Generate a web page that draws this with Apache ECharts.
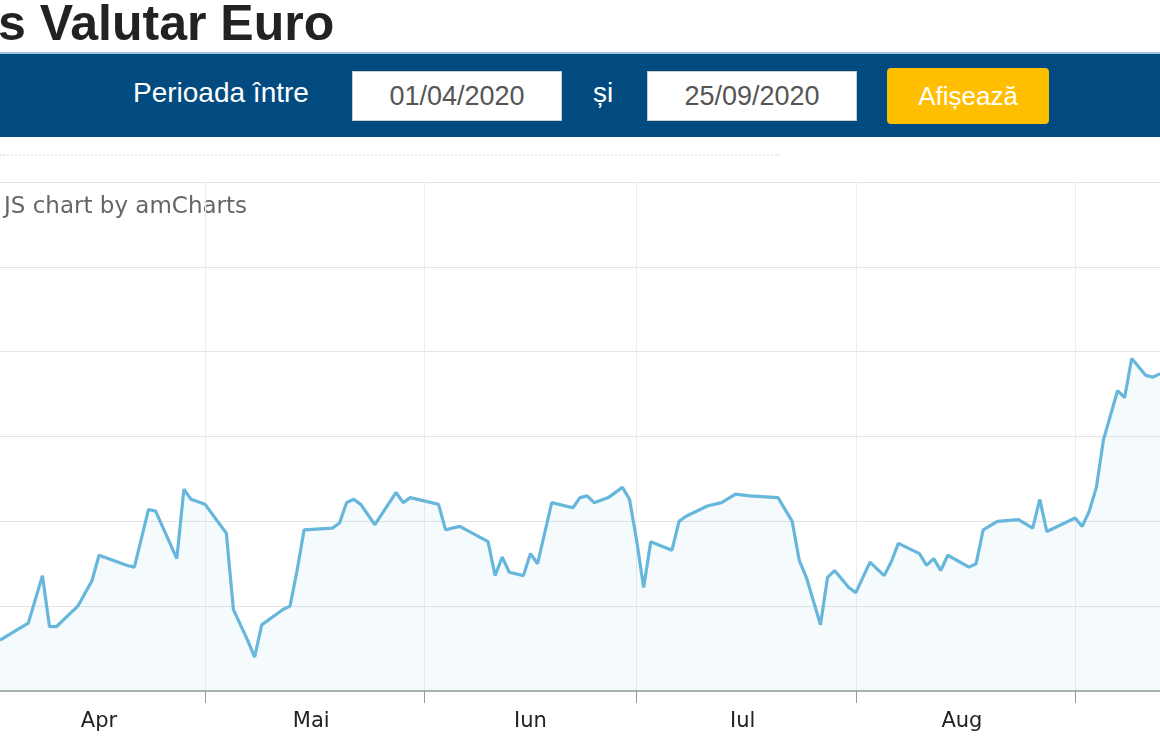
<!DOCTYPE html>
<html><head><meta charset="utf-8">
<script src="https://cdn.jsdelivr.net/npm/echarts@6/dist/echarts.min.js"></script>
<style>
html,body{margin:0;padding:0;width:1160px;height:750px;overflow:hidden;background:#fff;font-family:"Liberation Sans",Arial,sans-serif}
#chart{position:absolute;left:0;top:0;width:1160px;height:750px}
#title{position:absolute;left:-2px;top:-6px;font-size:50px;font-weight:bold;color:#222;white-space:nowrap}
#bar{position:absolute;left:0;top:52px;width:1160px;height:85px;background:#024b80;border-top:2px solid #9fc3de;box-sizing:border-box}
.lbl{position:absolute;color:#fff;font-size:28px;top:23px}
.box{position:absolute;top:17px;width:210px;height:50px;background:#fff;border:1px solid #ccc;box-sizing:border-box;color:#555;font-size:27px;text-align:center;line-height:48px}
#btn{position:absolute;left:887px;top:14px;width:162px;height:56px;background:#ffbf00;border-radius:4px;color:#fff;font-size:26px;text-align:center;line-height:56px}
#dots{position:absolute;left:0;top:154px;width:780px;border-top:2px dotted #e4edf4}
</style></head><body>
<div id="chart"></div>
<div id="title">s Valutar Euro</div>
<div id="bar">
  <div class="lbl" style="left:133px">Perioada între</div>
  <div class="box" style="left:352px">01/04/2020</div>
  <div class="lbl" style="left:593px">și</div>
  <div class="box" style="left:647px">25/09/2020</div>
  <div id="btn">Afișează</div>
</div>
<div id="dots"></div>
<script>
// day offsets from 1 April 2020
const dayIndex = [0,1,5,7,8,9,12,14,15,19,20,22,23,26,27,28,30,33,34,36,37,38,41,42,43,44,48,49,50,51,52,54,57,58,59,62,63,64,66,70,71,72,73,75,76,77,79,82,83,84,85,87,89,90,91,92,93,96,97,98,101,103,105,107,111,113,114,115,117,118,119,121,122,124,126,127,128,131,132,133,134,135,138,139,140,142,145,147,148,149,153,154,155,156,157,159,160,161,163,164,165];
const rates = [4.8206,4.8230,4.8240,4.8268,4.8238,4.8238,4.8250,4.8265,4.8280,4.8274,4.8273,4.8307,4.8306,4.8278,4.8319,4.8313,4.8310,4.8293,4.8248,4.8230,4.8220,4.8239,4.8248,4.8250,4.8271,4.8295,4.8296,4.8299,4.8311,4.8313,4.8310,4.8298,4.8317,4.8311,4.8314,4.8311,4.8310,4.8295,4.8297,4.8288,4.8268,4.8279,4.8270,4.8268,4.8281,4.8275,4.8311,4.8308,4.8314,4.8315,4.8311,4.8314,4.8320,4.8313,4.8289,4.8261,4.8288,4.8283,4.8300,4.8303,4.8309,4.8311,4.8316,4.8315,4.8314,4.8300,4.8277,4.8267,4.8239,4.8267,4.8271,4.8261,4.8258,4.8276,4.8268,4.8276,4.8287,4.8281,4.8274,4.8278,4.8271,4.8280,4.8273,4.8275,4.8295,4.8300,4.8301,4.8296,4.8313,4.8294,4.8302,4.8297,4.8306,4.8320,4.8348,4.8377,4.8373,4.8396,4.8386,4.8385,4.8387];
const monthLabels = ['Apr','Mai','Iun','Iul','Aug'];
const monthLabelIdx = [15,45,76,106,137];
const monthStartIdx = [30,61,91,122,153];
const firstDay = 1;   // visible window starts on 2 April
const lastDay = 165;  // and ends on 13 September

const cats = [];
for (let d = firstDay; d <= lastDay; d++) cats.push(String(d));
const series = new Array(cats.length).fill(null);
dayIndex.forEach((d, i) => { if (d >= firstDay && d <= lastDay) series[d - firstDay] = rates[i]; });
const isStart = (i) => monthStartIdx.includes(i + firstDay);
const isLabel = (i) => monthLabelIdx.includes(i + firstDay);

const chart = echarts.init(document.getElementById('chart'));
chart.setOption({
  animation: false,
  grid: {left: 0, top: 182, right: 0, bottom: 59, containLabel: false},
  graphic: [{type: 'text', left: 4, top: 196, style: {text: 'JS chart by amCharts', fill: '#666', font: '23px "DejaVu Sans", Verdana, sans-serif'}}],
  xAxis: {
    type: 'category', data: cats, boundaryGap: false,
    axisLine: {lineStyle: {color: '#999', width: 1.5}},
    axisTick: {show: true, length: 12, lineStyle: {color: '#999'}, interval: isStart},
    axisLabel: {interval: isLabel, margin: 20, color: '#222', fontSize: 21,
      fontFamily: '"DejaVu Sans", Verdana, sans-serif',
      formatter: (v) => { const k = monthLabelIdx.indexOf(Number(v)); return k >= 0 ? monthLabels[k] : ''; }},
    splitLine: {show: true, interval: isStart, lineStyle: {color: '#ececec'}}
  },
  yAxis: {
    type: 'value', min: 4.82, max: 4.85, interval: 0.005,
    axisLabel: {show: false}, axisLine: {show: false}, axisTick: {show: false},
    splitLine: {lineStyle: {color: '#e4e4e4', width: 1.2}}
  },
  series: [{
    type: 'line', data: series, connectNulls: true, showSymbol: false, symbol: 'none',
    lineStyle: {color: '#67b7dc', width: 3.2},
    areaStyle: {color: 'rgba(103,183,220,0.09)'}
  }]
});
</script>
</body></html>
